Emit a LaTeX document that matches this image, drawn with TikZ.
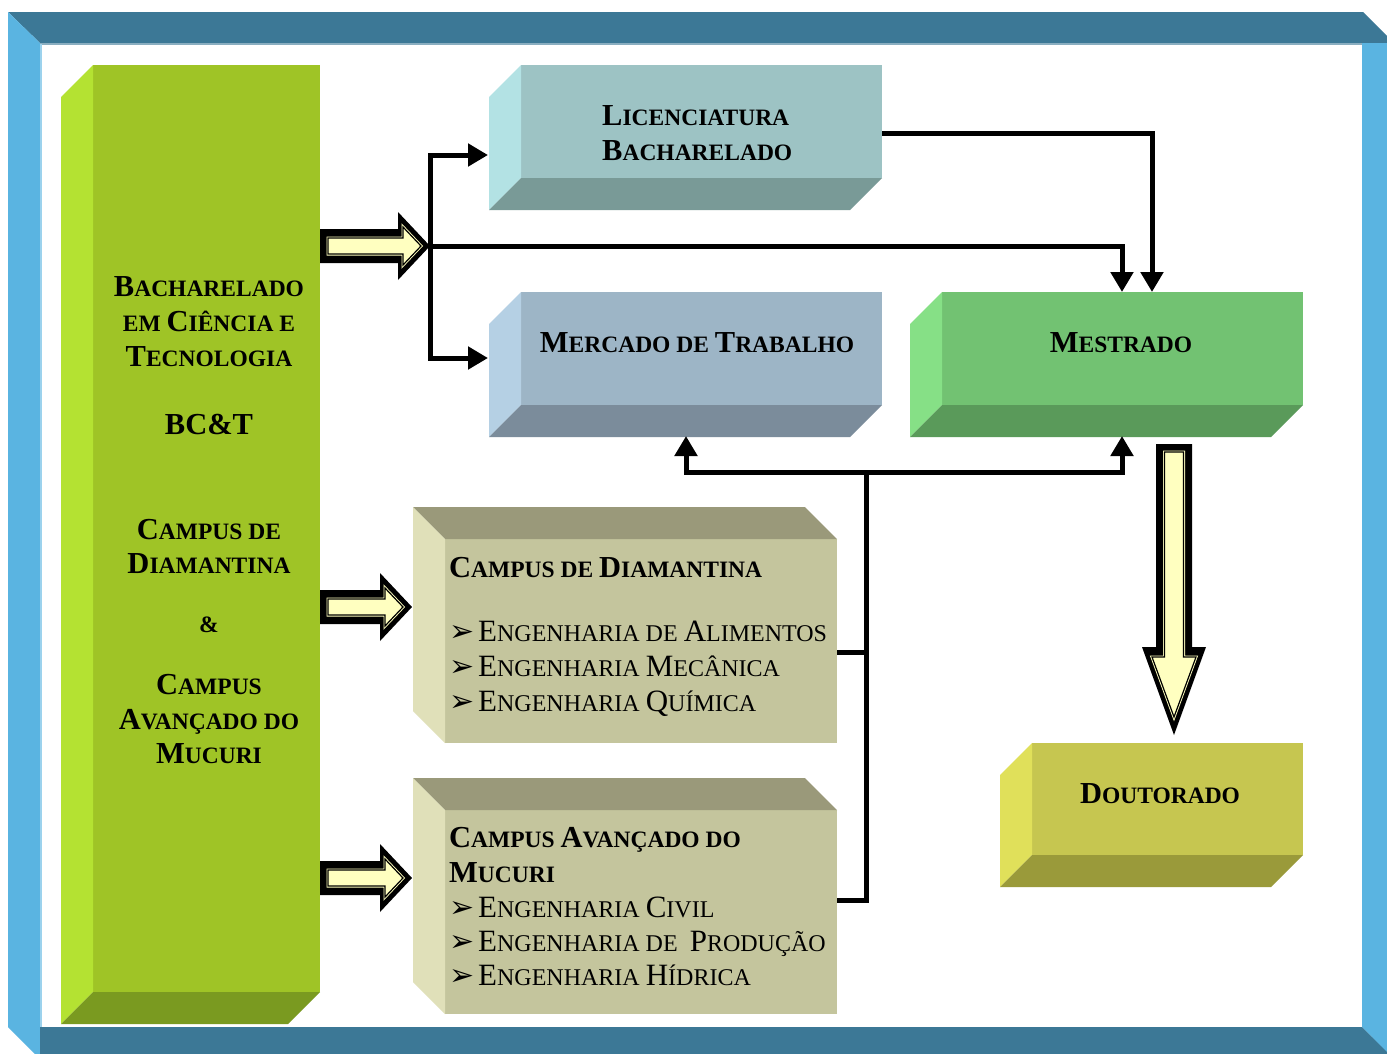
\documentclass[tikz,border=0pt]{standalone}
\usepackage{fontspec}
\setmainfont{Liberation Serif}
\newfontfamily\dejavu{DejaVu Sans}
\usetikzlibrary{arrows.meta}
\definecolor{framedark}{HTML}{3C7896}
\definecolor{framelight}{HTML}{5AB4E1}
\definecolor{greenfront}{HTML}{9FC426}
\definecolor{greenside}{HTML}{B4E232}
\definecolor{greenbottom}{HTML}{7A9A20}
\definecolor{licfront}{HTML}{9DC3C4}
\definecolor{licside}{HTML}{B3E2E4}
\definecolor{licbottom}{HTML}{799A97}
\definecolor{merfront}{HTML}{9DB5C6}
\definecolor{merside}{HTML}{B5D0E4}
\definecolor{merbottom}{HTML}{7B8C9B}
\definecolor{mesfront}{HTML}{72C272}
\definecolor{messide}{HTML}{86E086}
\definecolor{mesbottom}{HTML}{5A9A5A}
\definecolor{doufront}{HTML}{C6C650}
\definecolor{douside}{HTML}{E0E05A}
\definecolor{doubottom}{HTML}{9A9A3A}
\definecolor{campfront}{HTML}{C4C59D}
\definecolor{campside}{HTML}{E0E0B9}
\definecolor{camptop}{HTML}{9A997A}
\definecolor{hollowyellow}{HTML}{FFFFC0}
\newcommand\Bg[1]{{\fontsize{30.5}{30}\selectfont #1}}
\newcommand\Sm[1]{{\fontsize{23.5}{23}\selectfont #1}}
\newcommand\Bi[1]{{\fontsize{31}{30}\selectfont #1}}
\newcommand\Si[1]{{\fontsize{24}{23}\selectfont #1}}
\newcommand\bul{\makebox[29pt][l]{\dejavu\fontsize{30}{20}\selectfont ➢}}
% 3D box, depth towards left-bottom
\newcommand\BoxLB[8]{%
  \node[face, fill=#6, minimum width=#4pt, minimum height=#5pt] (#1) at (#2,#3) {};
  \fill[#7] (#1.north west) -- (#1.south west) -- ([shift={(-32,32)}]#1.south west) -- ([shift={(-32,32)}]#1.north west) -- cycle;
  \fill[#8] (#1.south west) -- (#1.south east) -- ([shift={(-32,32)}]#1.south east) -- ([shift={(-32,32)}]#1.south west) -- cycle;
}
% 3D box, depth towards left-top
\newcommand\BoxLT[8]{%
  \node[face, fill=#6, minimum width=#4pt, minimum height=#5pt] (#1) at (#2,#3) {};
  \fill[#8] (#1.north west) -- (#1.north east) -- ([shift={(-32,-32)}]#1.north east) -- ([shift={(-32,-32)}]#1.north west) -- cycle;
  \fill[#7] (#1.north west) -- (#1.south west) -- ([shift={(-32,-32)}]#1.south west) -- ([shift={(-32,-32)}]#1.north west) -- cycle;
}
% hollow horizontal block arrow: start x, tip x, centre y
\newcommand\HArrow[3]{%
  \fill[black] (#1,{#3-17}) -- ({#2-32},{#3-17}) -- ({#2-32},{#3-34}) -- (#2,#3) -- ({#2-32},{#3+34}) -- ({#2-32},{#3+17}) -- (#1,{#3+17}) -- cycle;
  \filldraw[fill=hollowyellow, draw=hollowyellow, line width=3pt, line join=miter] ({#1+8},{#3-8}) -- ({#2-27},{#3-8}) -- ({#2-27},{#3-19}) -- ({#2-9},#3) -- ({#2-27},{#3+19}) -- ({#2-27},{#3+8}) -- ({#1+8},{#3+8}) -- cycle;
  \draw[black, line width=1.2pt, line join=miter] ({#1+8},{#3-8}) -- ({#2-27},{#3-8}) -- ({#2-27},{#3-19}) -- ({#2-9},#3) -- ({#2-27},{#3+19}) -- ({#2-27},{#3+8}) -- ({#1+8},{#3+8}) -- cycle;
}
\tikzset{
  face/.style={inner sep=0pt, outer sep=0pt, draw=none, anchor=north west},
  lbl/.style={inner sep=0pt, font=\bfseries\fontsize{23.5}{23}\selectfont, anchor=base},
  lblw/.style={lbl, anchor=base west},
  item/.style={inner sep=0pt, font=\fontsize{24}{23}\selectfont, anchor=base west},
  conn/.style={line width=5pt, line join=miter, -{Triangle[length=20pt,width=22pt]}},
  bar/.style={line width=5pt, line join=miter},
}
\begin{document}
\begin{tikzpicture}[x=1pt, y=-1pt]
\useasboundingbox (0,0) rectangle (1387,1053);
\clip (0,0) rectangle (1387,1053);
\fill[white] (0,0) rectangle (1387,1053);
% frame
\fill[framedark] (8,12) -- (1363,12) -- (1394,43) -- (40,43) -- cycle;
\fill[framelight] (8,12) -- (40,43) -- (40,1059) -- (8,1027) -- cycle;
\fill[framelight] (1362,43) -- (1400,43) -- (1400,1066) -- (1362,1027) -- cycle;
\fill[framedark] (40,1027) -- (1362,1027) -- (1400,1065) -- (40,1065) -- cycle;
\draw[framedark!60!white, line width=1.5pt] (40,44) -- (1362,44);
\draw[framelight!60!white, line width=1.5pt] (41,44) -- (41,1027);
% boxes
\BoxLB{bct}{93}{65}{227}{927}{greenfront}{greenside}{greenbottom}
\BoxLB{lic}{521}{65}{361}{113}{licfront}{licside}{licbottom}
\BoxLB{mer}{521}{292}{361}{113}{merfront}{merside}{merbottom}
\BoxLB{mes}{942}{292}{361}{113}{mesfront}{messide}{mesbottom}
\BoxLB{dou}{1032}{743}{271}{112}{doufront}{douside}{doubottom}
\BoxLT{cd}{445}{539}{392}{204}{campfront}{campside}{camptop}
\BoxLT{cm}{445}{810}{392}{204}{campfront}{campside}{camptop}
% hollow block arrows
\HArrow{320}{430}{246}
\HArrow{320}{412}{607}
\HArrow{320}{412}{878}
\fill[black] (1156,444) -- (1192,444) -- (1192,647) -- (1206,647) -- (1174,735) -- (1142,647) -- (1156,647) -- cycle;
\filldraw[fill=hollowyellow, draw=hollowyellow, line width=3pt, line join=miter] (1164.5,452) -- (1183.5,452) -- (1183.5,657) -- (1196,657) -- (1174,717) -- (1152,657) -- (1164.5,657) -- cycle;
\draw[black, line width=1.2pt, line join=miter] (1164.5,452) -- (1183.5,452) -- (1183.5,657) -- (1196,657) -- (1174,717) -- (1152,657) -- (1164.5,657) -- cycle;
% connectors
\coordinate (j) at (430,246);
\coordinate (licin) at (488,155);
\coordinate (merin) at (488,358);
\coordinate (mesin1) at (1122,292);
\coordinate (mesin2) at (1152,292);
\coordinate (licout) at (882,133);
\coordinate (c1out) at (837,652);
\coordinate (c2out) at (837,900);
\coordinate (b1) at (866,652);
\coordinate (bx) at (866,472);
\coordinate (merbot) at (686,436);
\coordinate (mesbot) at (1122,436);
\draw[conn] (j) |- (licin);
\draw[conn] (j) |- (merin);
\draw[conn] (j) -| (mesin1);
\draw[conn] (licout) -| (mesin2);
\draw[bar] (c1out) -- (b1);
\draw[bar] (c2out) -| (bx);
\draw[conn] (bx) -| (merbot);
\draw[conn] (bx) -| (mesbot);
% texts
\node[lbl] (g1) at (209,296) {\Bg{B}\Sm{ACHARELADO}};
\node[lbl] (g2) at (209,331) {\Sm{EM} \Bg{C}\Sm{IÊNCIA E}};
\node[lbl] (g3) at (209,366) {\Bg{T}\Sm{ECNOLOGIA}};
\node[lbl] (g4) at (209,434) {\Bg{BC\&T}};
\node[lbl] (g5) at (209,539) {\Bg{C}\Sm{AMPUS DE}};
\node[lbl] (g6) at (209,573) {\Bg{D}\Sm{IAMANTINA}};
\node[lbl] (g7) at (209,632) {\&};
\node[lbl] (g8) at (209,694) {\Bg{C}\Sm{AMPUS}};
\node[lbl] (g9) at (209,729) {\Bg{A}\Sm{VANÇADO DO}};
\node[lbl] (g10) at (209,763) {\Bg{M}\Sm{UCURI}};
\node[lblw] (l1) at (602,125) {\Bg{L}\Sm{ICENCIATURA}};
\node[lblw] (l2) at (602,160) {\Bg{B}\Sm{ACHARELADO}};
\node[lbl] (m1) at (697,352) {\Bg{M}\Sm{ERCADO DE} \Bg{T}\Sm{RABALHO}};
\node[lbl] (ms1) at (1121,352) {\Bg{M}\Sm{ESTRADO}};
\node[lbl] (d1) at (1160,803) {\Bg{D}\Sm{OUTORADO}};
\node[lblw] (cdh) at (449,577) {\Bg{C}\Sm{AMPUS DE} \Bg{D}\Sm{IAMANTINA}};
\node[item] (cda) at (449,641) {\bul\Bi{E}\Si{NGENHARIA DE} \Bi{A}\Si{LIMENTOS}};
\node[item] (cdb) at (449,676) {\bul\Bi{E}\Si{NGENHARIA} \Bi{M}\Si{ECÂNICA}};
\node[item] (cdc) at (449,711) {\bul\Bi{E}\Si{NGENHARIA} \Bi{Q}\Si{UÍMICA}};
\node[lblw] (cmh) at (449,847) {\Bg{C}\Sm{AMPUS} \Bg{A}\Sm{VANÇADO DO}};
\node[lblw] (cmh2) at (449,882) {\Bg{M}\Sm{UCURI}};
\node[item] (cma) at (449,917) {\bul\Bi{E}\Si{NGENHARIA} \Bi{C}\Si{IVIL}};
\node[item] (cmb) at (449,951) {\bul\Bi{E}\Si{NGENHARIA DE}\ \ \Bi{P}\Si{RODUÇÃO}};
\node[item] (cmc) at (449,985) {\bul\Bi{E}\Si{NGENHARIA} \Bi{H}\Si{ÍDRICA}};
\end{tikzpicture}
\end{document}
